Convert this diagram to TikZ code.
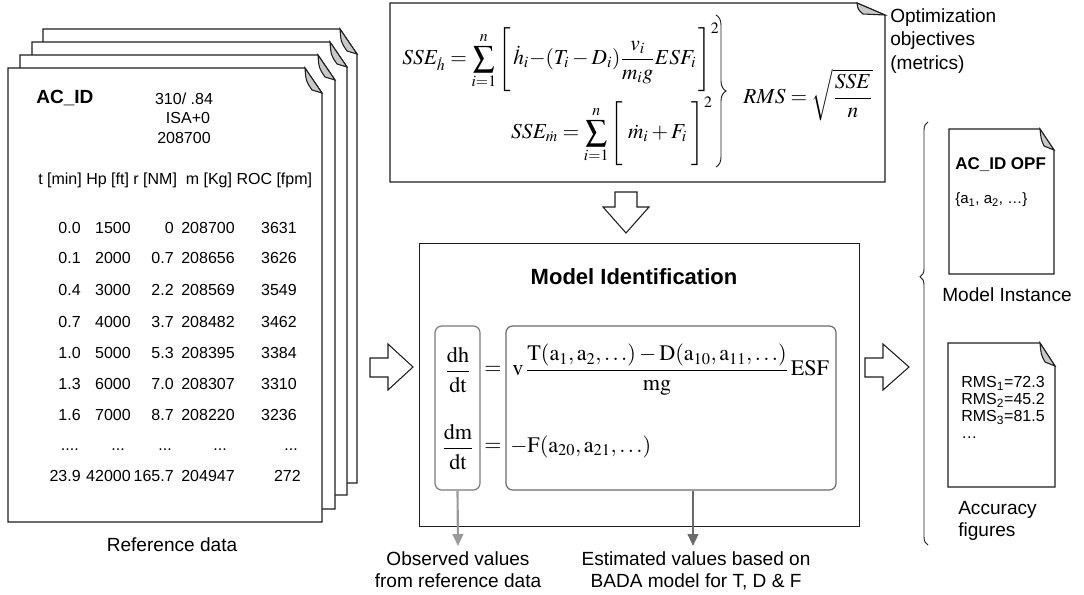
\documentclass[tikz,border=0pt]{standalone}
\usepackage{mathptmx}
\usepackage[no-math]{fontspec}
\setmainfont{Liberation Sans}
\usetikzlibrary{decorations.pathreplacing,arrows.meta}
\definecolor{lineblk}{HTML}{1E1E1E}
\definecolor{foldgray}{HTML}{C8C8C8}
\definecolor{obsgray}{HTML}{9A9A9A}
\definecolor{estgray}{HTML}{6A6A6A}
\definecolor{boxgray}{HTML}{7A7A7A}
\newcommand\mydoc[8]{%
  \filldraw[docline] (#1,#2) -- (#3-#5,#2) -- (#3,#2+#6) -- (#3,#4) -- (#1,#4) -- cycle;
  \filldraw[docline, fill=foldgray] (#3-#5,#2) .. controls (#3-#5+1,#2+#8*0.6) .. (#3-#7,#2+#8) -- (#3,#2+#6) -- cycle;
}
\newcommand\bigstrut{\rule[-18.5pt]{0pt}{44pt}}
\begin{document}
\begin{tikzpicture}[x=0.75pt,y=-0.75pt,
  docline/.style={draw=lineblk, line width=0.8pt, fill=white},
  tbl/.style={font=\fontsize{12}{14}\selectfont, inner sep=0pt},
  lbl/.style={font=\fontsize{14.3}{16.5}\selectfont, align=center, inner sep=0pt},
  mth/.style={font=\fontsize{16}{19}\selectfont, inner sep=0pt},
  mthb/.style={font=\fontsize{16.6}{20}\selectfont, inner sep=0pt},
  hollow/.style={draw=lineblk, fill=white, line width=0.8pt},
  rbox/.style={draw=boxgray, line width=0.9pt, rounded corners=5pt, inner sep=0pt},
]
\useasboundingbox (0,0) rectangle (1084,594);

% ---------- stack of reference data pages ----------
\mydoc{43}{29}{357}{483}{17}{25}{10}{22}
\mydoc{32}{42}{347}{495}{17}{25}{10}{22}
\mydoc{20}{55}{335}{509}{17}{25}{10}{22}
\mydoc{8}{68}{322}{522}{17}{25}{10}{22}

\node[font=\fontsize{14.3}{16}\selectfont\bfseries, anchor=west, inner sep=0pt] (acid) at (36,98) {AC\_ID};
\node[tbl] (h1) at (184,99) {310/ .84};
\node[tbl] (h2) at (188,118) {ISA+0};
\node[tbl] (h3) at (184,138) {208700};
\node[tbl, anchor=west] (hdr) at (38,180) {t [min] Hp [ft] r [NM]\ \ m [Kg] ROC [fpm]};

\foreach \yy/\a/\b/\c/\d/\e in {228/0.0/1500/0/208700/3631, 258/0.1/2000/0.7/208656/3626,
  290/0.4/3000/2.2/208569/3549, 322/0.7/4000/3.7/208482/3462, 353/1.0/5000/5.3/208395/3384,
  384/1.3/6000/7.0/208307/3310, 415/1.6/7000/8.7/208220/3236}{
  \node[tbl, anchor=east] (ca\yy) at (81,\yy) {\a};
  \node[tbl, anchor=east] (cb\yy) at (131,\yy) {\b};
  \node[tbl, anchor=east] (cc\yy) at (174,\yy) {\c};
  \node[tbl, anchor=east] (cd\yy) at (235,\yy) {\d};
  \node[tbl, anchor=east] (ce\yy) at (297,\yy) {\e};
}
\node[tbl, anchor=base east] (da) at (79,450) {....};
\node[tbl, anchor=base east] (db) at (125,450) {...};
\node[tbl, anchor=base east] (dc) at (172,450) {...};
\node[tbl, anchor=base east] (dd) at (227,450) {...};
\node[tbl, anchor=base east] (de) at (298,450) {...};
\node[tbl, anchor=east] (la) at (81,476) {23.9};
\node[tbl, anchor=east] (lb) at (131,476) {42000};
\node[tbl, anchor=east] (lc) at (174,476) {165.7};
\node[tbl, anchor=east] (ld) at (235,476) {204947};
\node[tbl, anchor=east] (le) at (301,476) {272};

\node[lbl] (reflbl) at (172,545) {Reference data};

% ---------- optimization objectives box ----------
\mydoc{390}{3}{885}{182}{28}{12}{22}{11}
\node[mth, anchor=west] (sseh) at (402,57)
  {$\displaystyle SSE_{\dot h} = \sum_{i=1}^{n}\left[\bigstrut\,\dot h_i{-}(T_i-D_i)\frac{v_i}{m_i g}ESF_i\,\right]^2$};
\node[mth, anchor=east] (ssem) at (713,131)
  {$\displaystyle SSE_{\dot m} = \sum_{i=1}^{n}\left[\bigstrut\;\dot m_i+F_i\;\right]^2$};
\draw[draw=lineblk, line width=0.7pt, decorate, decoration={brace, amplitude=7.5pt}] (716,15) -- (716,167);
\node[mth] (rms) at (808,95) {$RMS=\sqrt{\displaystyle\frac{SSE}{n}}$};

\node[lbl, align=left, anchor=west] (optlbl) at (890,41) {Optimization\\[1pt]objectives\\[1pt](metrics)};

% ---------- hollow arrows ----------
\draw[hollow] (615,192) -- (637,192) -- (637,207) -- (649,207) -- (626,233) -- (603,207) -- (615,207) -- cycle;
\draw[hollow] (370,358) -- (388,358) -- (388,344) -- (413,367) -- (388,390) -- (388,377) -- (370,377) -- cycle;
\draw[hollow] (865,358) -- (883,358) -- (883,344) -- (909,367) -- (883,390) -- (883,377) -- (865,377) -- cycle;

% ---------- model identification ----------
\node[draw=lineblk, line width=0.8pt, anchor=north west, minimum width=330pt, minimum height=212.25pt, inner sep=0pt] (mid) at (419,243) {};
\node[font=\fontsize{16.5}{18}\selectfont\bfseries, inner sep=0pt] (midtitle) at (634,277) {Model Identification};

\node[rbox, minimum width=33.75pt, minimum height=123pt] (obs) at (457.5,408) {};
\node[rbox, draw=estgray, minimum width=247.5pt, minimum height=123pt] (est) at (671,408) {};

\node[mthb] (dhdt) at (458,370) {$\displaystyle\frac{\mathrm{dh}}{\mathrm{dt}}$};
\node[mthb] (dmdt) at (458,447) {$\displaystyle\frac{\mathrm{dm}}{\mathrm{dt}}$};
\node[mthb] (eq1) at (493,370) {$=$};
\node[mthb] (eq2) at (493,447) {$=$};
\node[mthb, anchor=west] (rhs1) at (512,370)
  {$\displaystyle\mathrm{v}\,\frac{\mathrm{T}(\mathrm{a}_1,\mathrm{a}_2,\ldots)-\mathrm{D}(\mathrm{a}_{10},\mathrm{a}_{11},\ldots)}{\mathrm{mg}}\,\mathrm{ESF}$};
\node[mthb, anchor=west] (rhs2) at (510,447) {$-\mathrm{F}(\mathrm{a}_{20},\mathrm{a}_{21},\ldots)$};

\coordinate (obsend) at (458,546);
\coordinate (estend) at (693,546);
\draw[obsgray, line width=1.6pt, -{Triangle[length=9pt,width=8pt]}] (obs.south) -- (obsend);
\draw[estgray, line width=1.6pt, -{Triangle[length=9pt,width=8pt]}] (est.south -| estend) -- (estend);

\node[lbl] (obslbl) at (458,570) {Observed values\\from reference data};
\node[lbl] (estlbl) at (696,571) {Estimated values based on\\BADA model for T, D \& F};

% ---------- right side ----------
\draw[draw=lineblk, line width=0.7pt, decorate, decoration={brace, amplitude=6pt, aspect=0.634}] (928,545) -- (928,122);

\mydoc{949}{129}{1054}{274}{14}{21}{10}{17}
\node[font=\fontsize{12.75}{14}\selectfont\bfseries, anchor=west, inner sep=0pt] (opf) at (955,165) {AC\_ID OPF};
\node[font=\fontsize{11.25}{13}\selectfont, anchor=west, inner sep=0pt] (params) at (955,200) {\{a\textsubscript{1}, a\textsubscript{2}, \dots\}};
\node[lbl] (instlbl) at (1007,295) {Model Instance};

\mydoc{948}{343}{1055}{487}{15}{23}{10}{19}
\node[font=\fontsize{12}{12.75}\selectfont, align=left, anchor=north west, inner sep=0pt] (rmslist) at (961,376)
  {RMS\textsubscript{1}=72.3\\RMS\textsubscript{2}=45.2\\RMS\textsubscript{3}=81.5\\\dots};
\node[lbl, align=left, anchor=west] (acclbl) at (958,521) {Accuracy\\figures};
\end{tikzpicture}
\end{document}
